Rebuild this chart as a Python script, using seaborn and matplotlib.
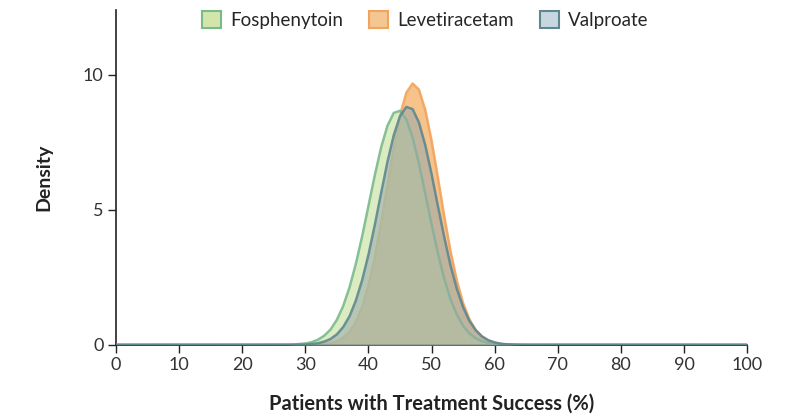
import numpy as np
import pandas as pd
import seaborn as sns
import matplotlib.pyplot as plt
from matplotlib.patches import Patch

# grid of success rate (%) and posterior density
pct = [0, 27, 28, 29, 30, 31, 32, 33, 34, 35, 36, 37, 38, 39, 40, 41, 42, 43, 44, 45,
       46, 47, 48, 49, 50, 51, 52, 53, 54, 55, 56, 57, 58, 59, 60, 61, 62, 63, 64, 65, 100]

fosphenytoin = [0, 0.005, 0.01, 0.03, 0.05, 0.10, 0.19, 0.34, 0.57, 0.93, 1.44, 2.13, 3.00, 4.02,
                5.15, 6.28, 7.31, 8.11, 8.59, 8.67, 8.35, 7.67, 6.71, 5.60, 4.46, 3.39, 2.45,
                1.69, 1.12, 0.70, 0.42, 0.24, 0.13, 0.07, 0.03, 0.02, 0.01, 0.003, 0.001, 0, 0]

levetiracetam = [0, 0, 0, 0, 0, 0.005, 0.01, 0.03, 0.06, 0.13, 0.26, 0.48, 0.84, 1.40,
                 2.19, 3.24, 4.50, 5.90, 7.29, 8.50, 9.34, 9.68, 9.45, 8.70, 7.56, 6.19, 4.77,
                 3.47, 2.38, 1.54, 0.94, 0.54, 0.29, 0.15, 0.07, 0.03, 0.01, 0.006, 0.002, 0, 0]

valproate = [0, 0.001, 0.002, 0.006, 0.01, 0.03, 0.06, 0.12, 0.22, 0.39, 0.66, 1.06, 1.64, 2.40,
             3.34, 4.44, 5.62, 6.77, 7.76, 8.47, 8.81, 8.73, 8.23, 7.39, 6.32, 5.14, 3.99,
             2.94, 2.07, 1.39, 0.88, 0.54, 0.31, 0.17, 0.09, 0.04, 0.02, 0.01, 0.004, 0.002, 0]

drugs = ['Fosphenytoin', 'Levetiracetam', 'Valproate']
fills = {'Fosphenytoin': '#c6e09a', 'Levetiracetam': '#f4b46e', 'Valproate': '#96a8ac'}
alphas = {'Fosphenytoin': 0.6, 'Levetiracetam': 0.8, 'Valproate': 0.55}
edges = {'Fosphenytoin': '#79b98a', 'Levetiracetam': '#f2a35e', 'Valproate': '#5f8790'}
swatch = {'Fosphenytoin': '#d2e6aa', 'Levetiracetam': '#f5c690', 'Valproate': '#c6d7e0'}

df = pd.concat([
    pd.DataFrame({'pct': pct, 'density': vals, 'drug': name})
    for name, vals in zip(drugs, [fosphenytoin, levetiracetam, valproate])
])

sns.set_style('ticks')
plt.rcParams['font.family'] = ['Lato', 'DejaVu Sans']

fig, ax = plt.subplots(figsize=(8, 4.19), dpi=100)
fig.subplots_adjust(left=0.145, right=0.934, bottom=0.177, top=0.976)

# draw order: levetiracetam underneath, valproate on top
for z, name in enumerate(['Levetiracetam', 'Fosphenytoin', 'Valproate']):
    d = df[df['drug'] == name]
    ax.fill_between(d['pct'], d['density'], color=fills[name], alpha=alphas[name], lw=0,
                    zorder=2 + z)
    sns.lineplot(data=d, x='pct', y='density', ax=ax, color=edges[name], lw=1.8,
                 alpha=0.9, zorder=2.5 + z, legend=False)

ax.set_xlim(0, 100)
ax.set_ylim(0, 12.4)
ax.set_xticks(range(0, 101, 10))
ax.set_yticks([0, 5, 10])
ax.tick_params(labelsize=13, length=6, width=1, color='#222222', labelcolor='#333333', pad=3)
ax.set_xlabel('Patients with Treatment Success (%)', fontsize=14.5, fontweight='bold',
              color='#222222', labelpad=15)
ax.set_ylabel('Density', fontsize=14, fontweight='bold', color='#222222', labelpad=22)
for s in ['left', 'bottom']:
    ax.spines[s].set_color('#222222')
    ax.spines[s].set_linewidth(1.2)
sns.despine(ax=ax)

handles = [Patch(facecolor=swatch[n], edgecolor=edges[n], lw=1.5, label=n) for n in drugs]
ax.legend(handles=handles, loc='center', bbox_to_anchor=(0.49, 0.97), ncol=3, frameon=False,
          fontsize=13.5, handlelength=1.0, handleheight=1.0, columnspacing=1.4, handletextpad=0.5)

plt.savefig('out.png', dpi=100)
